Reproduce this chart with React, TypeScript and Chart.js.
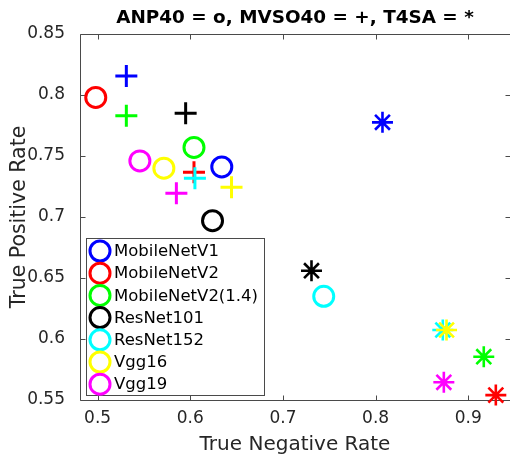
import React, { useEffect, useRef } from 'react';
import { Chart, registerables } from 'chart.js';

Chart.register(...registerables);

// ---------- data ----------
const models = ['MobileNetV1', 'MobileNetV2', 'MobileNetV2(1.4)', 'ResNet101', 'ResNet152', 'Vgg16', 'Vgg19'];
const modelColors = ['#0000ff', '#ff0000', '#00ff00', '#000000', '#00ffff', '#ffff00', '#ff00ff'];

// ANP40 (o)
const anpTNR = [0.634, 0.498, 0.604, 0.624, 0.744, 0.5715, 0.5456];
const anpTPR = [0.741, 0.798, 0.757, 0.697, 0.635, 0.740, 0.746];
// MVSO40 (+)
const mvsoTNR = [0.531, 0.604, 0.531, 0.595, 0.605, 0.6445, 0.585];
const mvsoTPR = [0.8156, 0.7366, 0.783, 0.785, 0.7317, 0.7243, 0.7194];
// T4SA (*)
const t4saTNR = [0.8074, 0.9297, 0.9167, 0.7308, 0.8725, 0.8765, 0.8736];
const t4saTPR = [0.7776, 0.554, 0.5855, 0.656, 0.6074, 0.6074, 0.5645];

const xTicks = [0.5, 0.6, 0.7, 0.8, 0.9];
const xTickLabels = ['0.5', '0.6', '0.7', '0.8', '0.9'];
const yTicks = [0.55, 0.6, 0.65, 0.7, 0.75, 0.8, 0.85];
const yTickLabels = ['0.55', '0.6', '0.65', '0.7', '0.75', '0.8', '0.85'];

const titleText = 'ANP40 = o, MVSO40 = +, T4SA = *';
const xTitle = 'True Negative Rate';
const yTitle = 'True Positive Rate';

const FONT = "'DejaVu Sans', 'Liberation Sans', sans-serif";
const AXIS_COLOR = '#4a4a4a';
const TEXT_COLOR = '#262626';

const framePlugin = {
  id: 'frame',
  beforeDatasetsDraw(chart: any) {
    const { ctx, chartArea } = chart;
    const { left, right, top, bottom } = chartArea;
    const xs = chart.scales.x;
    const ys = chart.scales.y;
    const L = Math.round(left) + 0.5;
    const R = Math.round(right) + 0.5;
    const T = Math.round(top) + 0.5;
    const B = Math.round(bottom) + 0.5;
    ctx.save();
    ctx.strokeStyle = AXIS_COLOR;
    ctx.lineWidth = 1;
    ctx.beginPath();
    ctx.moveTo(L, T);
    ctx.lineTo(R, T);
    ctx.lineTo(R, B);
    ctx.lineTo(L, B);
    ctx.closePath();
    const tl = 5;
    xTicks.forEach((v) => {
      const px = Math.round(xs.getPixelForValue(v)) + 0.5;
      ctx.moveTo(px, B);
      ctx.lineTo(px, B - tl);
      ctx.moveTo(px, T);
      ctx.lineTo(px, T + tl);
    });
    yTicks.forEach((v) => {
      const py = Math.round(ys.getPixelForValue(v)) + 0.5;
      ctx.moveTo(L, py);
      ctx.lineTo(L + tl, py);
      ctx.moveTo(R, py);
      ctx.lineTo(R - tl, py);
    });
    ctx.stroke();

    // title centred over the plot area
    ctx.fillStyle = '#000000';
    ctx.font = `bold 18.4px ${FONT}`;
    ctx.textAlign = 'center';
    ctx.textBaseline = 'middle';
    ctx.fillText(titleText, (left + right) / 2, top - 15.5);
    ctx.restore();
  },
};

const legendPlugin = {
  id: 'matlabLegend',
  afterDatasetsDraw(chart: any) {
    const { ctx, chartArea } = chart;
    const boxL = chartArea.left + 6.5;
    const boxR = chartArea.left + 184.5;
    const boxB = chartArea.bottom - 4.5;
    const boxT = boxB - 157;
    ctx.save();
    ctx.fillStyle = '#ffffff';
    ctx.fillRect(boxL, boxT, boxR - boxL, boxB - boxT);
    ctx.strokeStyle = AXIS_COLOR;
    ctx.lineWidth = 1;
    ctx.strokeRect(boxL, boxT, boxR - boxL, boxB - boxT);
    ctx.font = `16.5px ${FONT}`;
    ctx.textBaseline = 'middle';
    ctx.textAlign = 'left';
    const rowH = 22.2;
    const firstY = boxT + 12.5;
    models.forEach((name, i) => {
      const cy = firstY + i * rowH;
      ctx.beginPath();
      ctx.arc(boxL + 13.5, cy, 10, 0, Math.PI * 2);
      ctx.strokeStyle = modelColors[i];
      ctx.lineWidth = 3;
      ctx.stroke();
      ctx.fillStyle = '#000000';
      ctx.fillText(name, boxL + 27.5, cy + 1);
    });
    ctx.restore();
  },
};

export default function App() {
  const canvasRef = useRef<HTMLCanvasElement | null>(null);

  useEffect(() => {
    if (!canvasRef.current) return;
    const datasets = models.map((name, i) => ({
      label: name,
      data: [
        { x: anpTNR[i], y: anpTPR[i] },
        { x: mvsoTNR[i], y: mvsoTPR[i] },
        { x: t4saTNR[i], y: t4saTPR[i] },
      ],
      pointStyle: ['circle', 'cross', 'star'],
      pointRadius: [10, 11, 10.5],
      pointHoverRadius: [10, 11, 10.5],
      pointBorderWidth: [3, 3, 2.6],
      pointBorderColor: modelColors[i],
      pointBackgroundColor: 'rgba(0,0,0,0)',
      borderColor: modelColors[i],
      backgroundColor: 'rgba(0,0,0,0)',
      showLine: false,
      clip: false,
      order: models.length - i,
    }));

    const chart = new Chart(canvasRef.current, {
      type: 'scatter',
      data: { datasets },
      options: {
        animation: false,
        responsive: false,
        events: [],
        layout: { autoPadding: false, padding: { left: 0, right: 0, top: 34, bottom: 0 } },
        plugins: {
          legend: { display: false },
          tooltip: { enabled: false },
          title: { display: false },
        },
        scales: {
          x: {
            type: 'linear',
            min: 0.481,
            max: 0.945,
            grid: { display: false },
            border: { display: false },
            afterBuildTicks: (scale: any) => {
              scale.ticks = xTicks.map((v) => ({ value: v }));
            },
            afterFit: (scale: any) => {
              scale.height = 58;
              scale.paddingLeft = 0;
              scale.paddingRight = 0;
            },
            ticks: {
              autoSkip: false,
              maxRotation: 0,
              padding: 0,
              color: TEXT_COLOR,
              font: { family: FONT, size: 17, lineHeight: 1.2 },
              callback: (_v: any, idx: number) => xTickLabels[idx],
            },
            title: {
              display: true,
              text: xTitle,
              color: TEXT_COLOR,
              font: { family: FONT, size: 20, lineHeight: 1.2 },
              padding: { top: 0, bottom: 1 },
            },
          },
          y: {
            type: 'linear',
            min: 0.55,
            max: 0.85,
            grid: { display: false },
            border: { display: false },
            afterBuildTicks: (scale: any) => {
              scale.ticks = yTicks.map((v) => ({ value: v }));
            },
            afterFit: (scale: any) => {
              scale.width = 80;
              scale.paddingTop = 0;
              scale.paddingBottom = 0;
            },
            ticks: {
              autoSkip: false,
              padding: 7,
              color: TEXT_COLOR,
              font: { family: FONT, size: 17, lineHeight: 1.2 },
              callback: (_v: any, idx: number) => yTickLabels[idx],
            },
            title: {
              display: true,
              text: yTitle,
              color: TEXT_COLOR,
              font: { family: FONT, size: 20.5, lineHeight: 1.2 },
              padding: { top: 7, bottom: 0 },
            },
          },
        },
      },
      plugins: [framePlugin, legendPlugin],
    } as any);

    return () => {
      chart.destroy();
    };
  }, []);

  return (
    <div style={{ position: 'fixed', left: 0, top: 0, width: 510, height: 458, background: '#ffffff' }}>
      <canvas ref={canvasRef} width={510} height={458} style={{ display: 'block', width: 510, height: 458 }} />
    </div>
  );
}
